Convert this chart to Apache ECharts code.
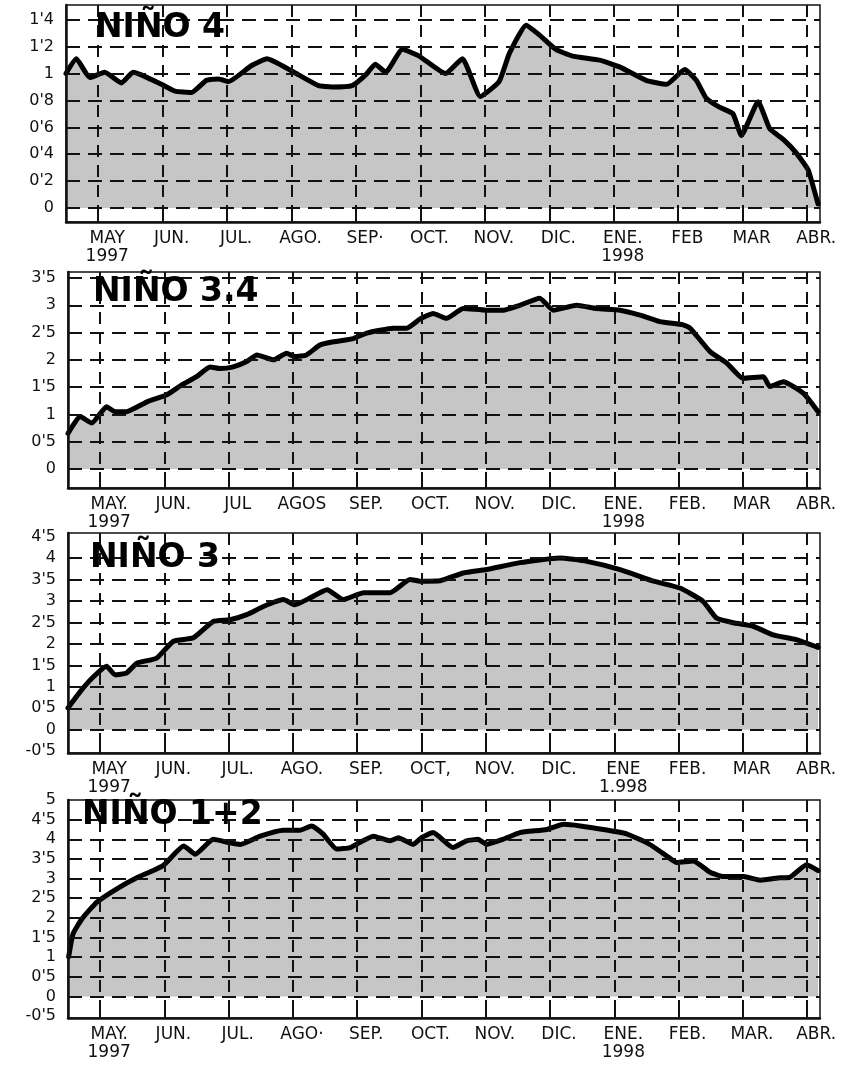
<!DOCTYPE html>
<html><head><meta charset="utf-8">
<script src="https://cdn.jsdelivr.net/npm/echarts@6/dist/echarts.min.js"></script>
<style>html,body{margin:0;padding:0;background:#fff}#c{width:853px;height:1068px}</style>
</head><body><div id="c"></div>
<script>
// x unit: months, 0 = MAY 1997 ... 11 = ABR 1998
const monthTicks = [0,1,2,3,4,5,6,7,8,9,10,11];
const months1 = ['MAY','JUN.','JUL.','AGO.','SEP·','OCT.','NOV.','DIC.','ENE.','FEB','MAR','ABR.'];
const months2 = ['MAY.','JUN.','JUL','AGOS','SEP.','OCT.','NOV.','DIC.','ENE.','FEB.','MAR','ABR.'];
const months3 = ['MAY','JUN.','JUL.','AGO.','SEP.','OCT,','NOV.','DIC.','ENE','FEB.','MAR','ABR.'];
const months4 = ['MAY.','JUN.','JUL.','AGO·','SEP.','OCT.','NOV.','DIC.','ENE.','FEB.','MAR.','ABR.'];
const years1 = ['1997','1998'];
const years2 = ['1997','1998'];
const years3 = ['1997','1.998'];
const years4 = ['1997','1998'];
const titles = ['NIÑO 4','NIÑO 3.4','NIÑO 3','NIÑO 1+2'];

const yLabels1 = [0,0.2,0.4,0.6,0.8,1,1.2,1.4];
const yGrid1   = [0,0.2,0.4,0.6,0.8,1,1.2,1.4];
const yLabels2 = [0,0.5,1,1.5,2,2.5,3,3.5];
const yGrid2   = [0,0.5,1,1.5,2,2.5,3,3.5];
const yLabels3 = [-0.5,0,0.5,1,1.5,2,2.5,3,3.5,4,4.5];
const yGrid3   = [0,0.5,1,1.5,2,2.5,3,3.5,4];
const yLabels4 = [-0.5,0,0.5,1,1.5,2,2.5,3,3.5,4,4.5,5];
const yGrid4   = [0,0.5,1,1.5,2,2.5,3,3.5,4,4.5];

// NIÑO 4
const n4X = [-0.5,-0.34,-0.13,0.10,0.36,0.54,0.67,0.98,1.19,1.45,1.68,1.87,2.02,2.38,2.62,2.85,3.11,3.42,3.63,3.94,4.15,4.30,4.46,4.72,4.98,5.39,5.65,5.93,6.22,6.38,6.64,6.84,7.10,7.36,7.78,8.09,8.50,8.82,9.10,9.28,9.43,9.64,9.85,9.98,10.24,10.42,10.63,10.83,11.02,11.17];
const n4Y = [1.00,1.11,0.97,1.01,0.93,1.01,0.99,0.92,0.87,0.86,0.95,0.96,0.94,1.06,1.11,1.06,0.99,0.91,0.90,0.91,0.99,1.07,1.01,1.18,1.13,1.00,1.11,0.83,0.94,1.15,1.36,1.29,1.18,1.13,1.10,1.05,0.95,0.92,1.03,0.95,0.82,0.75,0.70,0.54,0.79,0.59,0.51,0.41,0.28,0.03];
// NIÑO 3.4
const n34X = [-0.5,-0.31,-0.13,0.10,0.23,0.41,0.73,1.04,1.27,1.50,1.71,1.87,2.07,2.28,2.44,2.70,2.90,3.03,3.21,3.42,3.63,3.94,4.15,4.56,4.77,4.98,5.18,5.39,5.65,6.01,6.27,6.53,6.84,7.05,7.41,7.72,8.09,8.40,8.71,9.07,9.18,9.49,9.75,10.00,10.32,10.42,10.63,10.94,11.17];
const n34Y = [0.65,0.96,0.84,1.14,1.05,1.05,1.23,1.36,1.54,1.69,1.87,1.84,1.87,1.97,2.09,2.00,2.12,2.06,2.09,2.27,2.33,2.39,2.49,2.58,2.58,2.75,2.85,2.76,2.94,2.91,2.91,3.00,3.13,2.91,3.00,2.94,2.91,2.82,2.70,2.64,2.58,2.15,1.94,1.66,1.69,1.51,1.60,1.39,1.05];
// NIÑO 3
const n3X = [-0.5,-0.31,-0.10,0.10,0.23,0.41,0.57,0.88,1.14,1.45,1.76,2.02,2.28,2.54,2.85,3.03,3.27,3.53,3.78,4.10,4.51,4.82,4.98,5.29,5.65,6.01,6.53,7.15,7.57,8.09,8.61,9.02,9.38,9.59,9.85,10.16,10.47,10.83,11.17];
const n3Y = [0.51,0.89,1.24,1.48,1.28,1.32,1.55,1.67,2.06,2.14,2.52,2.56,2.68,2.87,3.03,2.91,3.07,3.26,3.03,3.19,3.19,3.50,3.46,3.47,3.65,3.73,3.89,4.00,3.92,3.73,3.46,3.30,2.99,2.60,2.49,2.41,2.21,2.10,1.92];
// NIÑO 1+2
const n12X = [-0.49,-0.42,-0.28,-0.05,0.26,0.57,0.98,1.30,1.48,1.76,2.02,2.18,2.49,2.85,3.11,3.29,3.47,3.68,3.89,4.25,4.51,4.64,4.87,5.00,5.18,5.49,5.70,5.88,6.01,6.27,6.53,6.95,7.21,7.47,7.83,8.19,8.55,8.81,8.97,9.23,9.49,9.70,10.01,10.27,10.58,10.73,10.99,11.17];
const n12Y = [1.01,1.60,1.98,2.40,2.74,3.02,3.33,3.83,3.62,4.00,3.91,3.87,4.08,4.23,4.23,4.34,4.13,3.75,3.79,4.08,3.96,4.04,3.87,4.04,4.17,3.79,3.96,4.00,3.87,4.00,4.17,4.25,4.38,4.34,4.25,4.14,3.87,3.58,3.41,3.45,3.16,3.05,3.05,2.96,3.02,3.03,3.35,3.20];

const panels = [
  {top:5,   height:217, left:66, yMin:-0.104, yMax:1.51, yl:yLabels1, yg:yGrid1, m:months1, yr:years1, xs:n4X, ys:n4Y, tl:95, tt:12},
  {top:272, height:216, left:68, yMin:-0.35,  yMax:3.61, yl:yLabels2, yg:yGrid2, m:months2, yr:years2, xs:n34X, ys:n34Y, tl:93, tt:276},
  {top:533, height:220, left:68, yMin:-0.54,  yMax:4.58, yl:yLabels3, yg:yGrid3, m:months3, yr:years3, xs:n3X, ys:n3Y, tl:90, tt:542},
  {top:800, height:218, left:68, yMin:-0.55,  yMax:5,    yl:yLabels4, yg:yGrid4, m:months4, yr:years4, xs:n12X, ys:n12Y, tl:82, tt:799}
];

const FONT = 'DejaVu Sans';
const INK = '#111';
const option = {animation:false, title:[], grid:[], xAxis:[], yAxis:[], series:[]};
panels.forEach((p, i) => {
  option.title.push({text:titles[i], left:p.tl, top:p.tt, padding:0, z:8,
    textStyle:{fontFamily:FONT, fontWeight:'bold', fontSize:33, color:'#000'}});
  option.grid.push({left:p.left, right:33, top:p.top, height:p.height, show:true,
    borderColor:INK, borderWidth:1.5, backgroundColor:'transparent'});
  option.xAxis.push({type:'value', gridIndex:i, min:-0.5, max:11.2, z:3,
    axisLine:{onZero:false, lineStyle:{color:INK, width:2.5}},
    axisTick:{customValues:monthTicks, inside:true, length:12, lineStyle:{color:INK, width:2}},
    splitLine:{show:true, lineStyle:{color:INK, width:2, type:[12,8]}},
    axisLabel:{customValues:monthTicks, margin:8, color:INK, fontFamily:FONT, fontSize:17,
      lineHeight:18, padding:[0,0,0,18],
      formatter:v => { const k = Math.round(v); let s = p.m[k];
        if (k === 0) s += '\n' + p.yr[0];
        if (k === 8) s += '\n' + p.yr[1];
        return s; }}
  });
  option.yAxis.push({type:'value', gridIndex:i, min:p.yMin, max:p.yMax, z:3,
    axisLine:{show:true, onZero:false, lineStyle:{color:INK, width:2.5}},
    axisTick:{show:false, customValues:p.yg},
    splitLine:{show:true, lineStyle:{color:INK, width:2, type:[14,8]}},
    axisLabel:{customValues:p.yl, margin:12, color:INK, fontFamily:FONT, fontSize:16,
      formatter:v => String(v).replace('.', "'")}
  });
  option.series.push({type:'line', xAxisIndex:i, yAxisIndex:i, z:2,
    data:p.xs.map((x, j) => [x, p.ys[j]]),
    symbol:'none', smooth:0.15,
    lineStyle:{color:'#000', width:5, join:'round', cap:'round'},
    areaStyle:{color:'#c6c6c6', opacity:1}
  });
});
const chart = echarts.init(document.getElementById('c'), null, {renderer:'canvas'});
chart.setOption(option);
</script></body></html>
